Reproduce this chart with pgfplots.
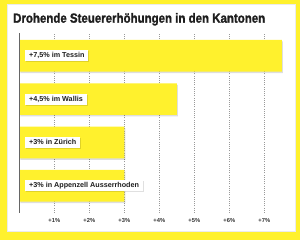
\documentclass[border=0pt]{standalone}
\usepackage{pgfplots}
\pgfplotsset{compat=1.18}
\usepackage{fontspec}
\setmainfont{Liberation Sans}
\newfontfamily\titlefont{Liberation Sans Bold}[FakeBold=1.5]
\usetikzlibrary{shadows}
\definecolor{swissyellow}{RGB}{255,241,45}
\definecolor{inkdark}{RGB}{30,30,30}

\begin{document}
\begin{tikzpicture}[x=1pt,y=1pt]
  % yellow frame and white panel
  \fill[swissyellow] (0,0) rectangle (300,240);
  \fill[white] (6.5,9) rectangle (295,236);
  \draw[black!8, line width=0.4pt] (6.7,9.2) rectangle (294.8,235.8);
  % title
  \node[anchor=base west, inner sep=0, text=inkdark] at (13,217.3)
    {\resizebox{252pt}{\height}{\fontsize{13.3}{13.3}\titlefont Drohende Steuererhöhungen in den Kantonen}};
  \begin{axis}[
    at={(19.3pt,27pt)}, anchor=south west,
    scale only axis, width=262.5pt, height=180pt,
    xmin=0, xmax=7.5, ymin=0.372, ymax=4.526,
    xbar, bar width=0.73,
    axis line style={draw=none},
    ytick=\empty,
    xtick={1,2,3,4,5,6,7},
    xticklabels={+1\%,+2\%,+3\%,+4\%,+5\%,+6\%,+7\%},
    major tick length=0pt,
    xmajorgrids,
    grid style={dash pattern=on 1pt off 1.2pt, black!40, line width=0.45pt},
    xticklabel style={font=\fontsize{5.8}{5.8}\selectfont\bfseries, text=black!80, yshift=-2pt},
    clip=false,
  ]
    \addplot[fill=swissyellow, draw=none,
      drop shadow={shadow xshift=1pt, shadow yshift=-1.5pt, fill=black, opacity=0.13}]
      coordinates {(7.5,4) (4.5,3) (3,2) (3,1)};
    % baseline at zero
    \draw[black!60, line width=0.6pt] (rel axis cs:0,0) -- (rel axis cs:0,1);
    % labels inside the bars
    \tikzset{barlabel/.style={anchor=west, xshift=5.7pt, fill=white, text=inkdark,
      font=\fontsize{7.2}{7.2}\selectfont\bfseries, inner xsep=4pt, inner ysep=2pt,
      text height=5.4pt, text depth=1.6pt,
      drop shadow={shadow xshift=0.8pt, shadow yshift=-1pt, fill=black, opacity=0.12}}}
    \node[barlabel] at (axis cs:0,4) {+7,5\% im Tessin};
    \node[barlabel] at (axis cs:0,3) {+4,5\% im Wallis};
    \node[barlabel] at (axis cs:0,2) {+3\% in Zürich};
    \node[barlabel] at (axis cs:0,1) {+3\% in Appenzell Ausserrhoden};
  \end{axis}
\end{tikzpicture}
\end{document}
